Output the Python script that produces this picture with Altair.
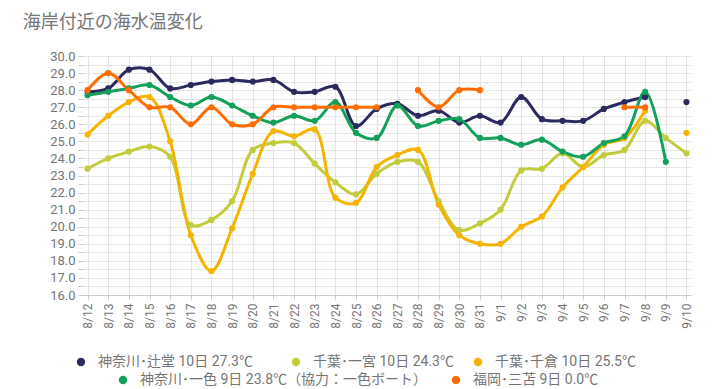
import altair as alt
import pandas as pd

dates = ["8/12", "8/13", "8/14", "8/15", "8/16", "8/17", "8/18", "8/19", "8/20", "8/21",
         "8/22", "8/23", "8/24", "8/25", "8/26", "8/27", "8/28", "8/29", "8/30", "8/31",
         "9/1", "9/2", "9/3", "9/4", "9/5", "9/6", "9/7", "9/8", "9/9", "9/10"]

series_names = [
    "神奈川･辻堂 10日 27.3℃",
    "千葉･一宮 10日 24.3℃",
    "千葉･千倉 10日 25.5℃",
    "神奈川･一色 9日 23.8℃（協力：一色ボート）",
    "福岡･三苫 9日 0.0℃",
]
series_colors = ["#2b2a5f", "#c3cc3c", "#f6b400", "#13a05a", "#ff6d00"]

tsujido = [27.9, 28.1, 29.2, 29.2, 28.1, 28.3, 28.5, 28.6, 28.5, 28.6,
           27.9, 27.9, 28.2, 25.9, 26.9, 27.2, 26.5, 26.8, 26.1, 26.5,
           26.1, 27.6, 26.3, 26.2, 26.2, 26.9, 27.3, 27.6, None, 27.3]
ichinomiya = [23.4, 24.0, 24.4, 24.7, 24.1, 20.1, 20.4, 21.5, 24.5, 24.9,
              24.9, 23.7, 22.6, 21.9, 23.1, 23.8, 23.8, 21.5, 19.8, 20.2,
              21.0, 23.3, 23.4, 24.3, 23.5, 24.2, 24.5, 26.2, 25.2, 24.3]
chikura = [25.4, 26.5, 27.3, 27.6, 25.0, 19.5, 17.4, 19.9, 23.1, 25.6,
           25.3, 25.7, 21.7, 21.4, 23.5, 24.2, 24.5, 21.3, 19.5, 19.0,
           19.0, 20.0, 20.6, 22.3, 23.5, 24.8, 25.2, 26.8, None, 25.5]
isshiki = [27.7, 27.9, 28.1, 28.3, 27.6, 27.1, 27.6, 27.1, 26.5, 26.1,
           26.5, 26.2, 27.3, 25.5, 25.2, 27.1, 25.9, 26.2, 26.3, 25.2,
           25.2, 24.8, 25.1, 24.4, 24.1, 24.9, 25.3, 27.9, 23.8, None]
mitoma = [28.0, 29.0, 28.0, 27.0, 27.0, 26.0, 27.0, 26.0, 26.0, 27.0,
          27.0, 27.0, 27.0, 27.0, 27.0, None, 28.0, 27.0, 28.0, 28.0,
          None, None, None, None, None, None, 27.0, 27.0, None, None]

all_series = [tsujido, ichinomiya, chikura, isshiki, mitoma]

# legend item placement (x, y relative to the plot area), two centred rows
legend_pos = [(-9, 299), (206, 299), (388, 299), (33, 317), (366, 317)]

rows = []
for name, vals in zip(series_names, all_series):
    seg = 0
    prev_none = True
    for d, v in zip(dates, vals):
        if v is None:
            prev_none = True
            continue
        if prev_none:
            seg += 1
        prev_none = False
        rows.append({"date": d, "temp": v, "series": name, "seg": f"{name}-{seg}"})
df = pd.DataFrame(rows)

yvals = [16 + 0.5 * i for i in range(29)]

x_enc = alt.X("date:O", sort=dates, scale=alt.Scale(type="point", padding=0.22),
              axis=alt.Axis(title=None, labelAngle=-90, labelColor="#757575", labelFontSize=12,
                            grid=True, gridColor="#e3e3e3", tickColor="#cccccc", tickSize=4,
                            domainColor="#cccccc", labelPadding=4))
y_enc = alt.Y("temp:Q", scale=alt.Scale(domain=[16, 30], nice=False, zero=False),
              axis=alt.Axis(title=None, values=yvals,
                            labelExpr="datum.value % 1 == 0 ? format(datum.value, '.1f') : ''",
                            labelColor="#757575", labelFontSize=13, gridColor="#e6e6e6",
                            tickColor="#cccccc", tickSize=5, domain=False, labelPadding=3))
cscale = alt.Scale(domain=series_names, range=series_colors)

lines = alt.Chart(df).mark_line(interpolate="catmull-rom", strokeWidth=3).encode(
    x=x_enc, y=y_enc, color=alt.Color("series:N", scale=cscale, legend=None), detail="seg:N")

layers = [lines]
for name, (lx, ly) in zip(series_names, legend_pos):
    leg = alt.Legend(title=None, orient="none", legendX=lx, legendY=ly, direction="horizontal",
                     values=[name], symbolType="circle", symbolSize=70,
                     labelFontSize=14, labelColor="#757575", labelOffset=10,
                     labelLimit=400, padding=0)
    layers.append(
        alt.Chart(df).transform_filter(alt.datum.series == name)
        .mark_circle(size=38, opacity=1)
        .encode(x=x_enc, y=y_enc, color=alt.Color("series:N", scale=cscale, legend=leg))
    )

chart = alt.layer(*layers).resolve_scale(color="independent").resolve_legend(
    color="independent").properties(
    width=608, height=239,
    title=alt.TitleParams("海岸付近の海水温変化", anchor="start", fontSize=18, color="#757575",
                          fontWeight="normal", dx=-27, offset=18),
    padding={"left": 14, "top": 6, "right": 10, "bottom": 5},
).configure(font="Roboto, 'Noto Sans CJK JP'").configure_view(stroke=None)

chart.save("out.html", embed_options={"renderer": "svg", "actions": False})
